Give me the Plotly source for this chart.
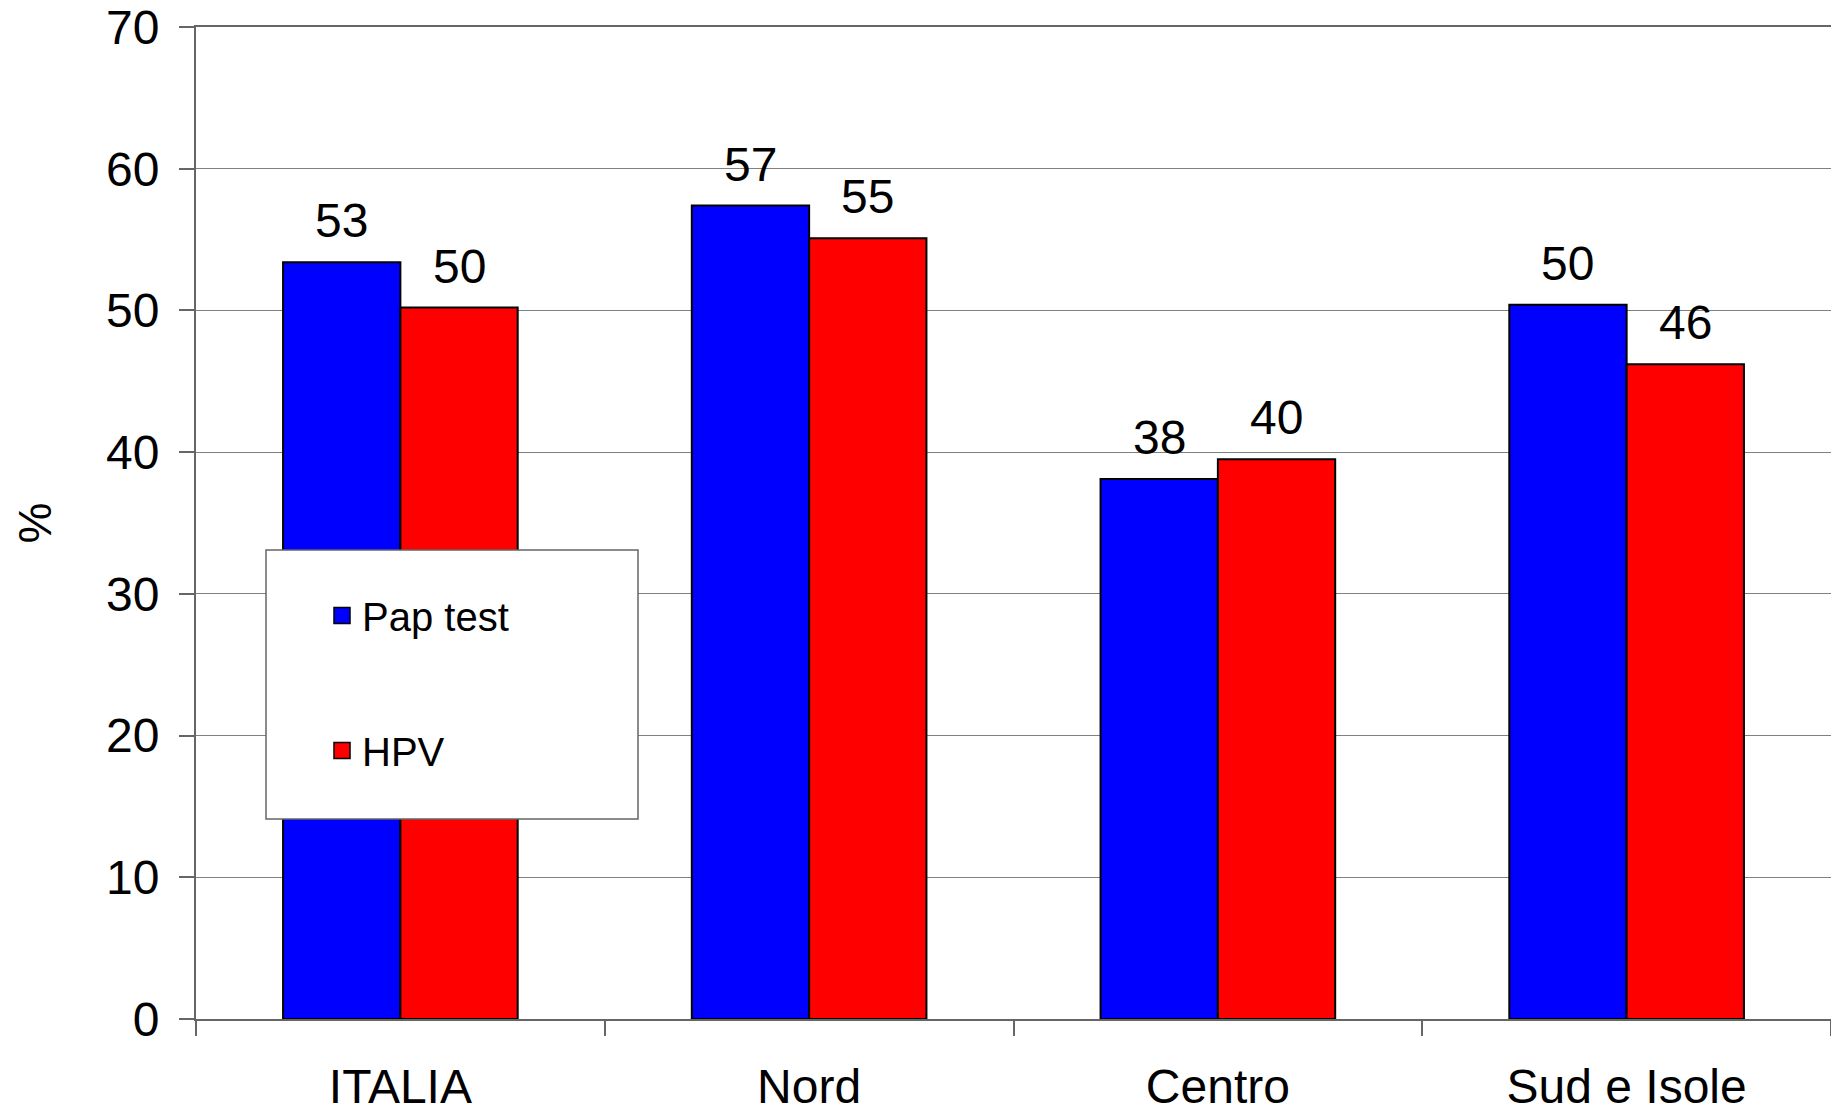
import plotly.graph_objects as go

categories = ["ITALIA", "Nord", "Centro", "Sud e Isole"]
pap_test = [53.4, 57.4, 38.1, 50.4]
hpv = [50.2, 55.1, 39.5, 46.2]
pap_labels = ["53", "57", "38", "50"]
hpv_labels = ["50", "55", "40", "46"]
y_ticks = [0, 10, 20, 30, 40, 50, 60, 70]
series_names = ["Pap test", "HPV"]
series_colors = ["#0000FF", "#FF0000"]

FONT = "Liberation Sans, Arial, sans-serif"
BARGAP = 0.426
W, H = 1831, 1100  # page body has an 8px margin

fig = go.Figure()
for name, vals, col in zip(series_names, [pap_test, hpv], series_colors):
    fig.add_trace(go.Bar(name=name, x=categories, y=vals, showlegend=False,
                         marker=dict(color=col, line=dict(color="black", width=2))))
# legend entries (square swatches)
for i, (name, col) in enumerate(zip(series_names, series_colors)):
    fig.add_trace(go.Scatter(name=name, x=[None], y=[None], mode="markers",
                             marker=dict(symbol="square", size=16, color=col,
                                         line=dict(color="black", width=1.5)),
                             legendgroup=f"g{i}", showlegend=True))

half = (1 - BARGAP) / 4
annotations = []
for sign, vals, labels in [(-1, pap_test, pap_labels), (1, hpv, hpv_labels)]:
    for i, (v, t) in enumerate(zip(vals, labels)):
        annotations.append(dict(x=i + sign * half, y=v, xref="x", yref="y", text=t,
                                showarrow=False, yanchor="bottom", yshift=13,
                                font=dict(size=48, color="black", family=FONT)))

pl, pr, pt, pb = 188, 1823, 19, 1011  # plot area in figure px
fig.update_layout(
    width=W, height=H,
    margin=dict(l=pl, r=W - pr, t=pt, b=H - pb, autoexpand=False),
    paper_bgcolor="white", plot_bgcolor="white",
    barmode="group", bargap=BARGAP, bargroupgap=0,
    font=dict(family=FONT, color="black"),
    annotations=annotations,
    legend=dict(x=(314 - pl) / (pr - pl), y=(pb - 575) / (pb - pt), xanchor="left", yanchor="top",
                bgcolor="rgba(0,0,0,0)", borderwidth=0,
                font=dict(size=40, family=FONT, color="black"),
                traceorder="grouped", tracegroupgap=80),
    shapes=[dict(type="rect", xref="paper", yref="paper", layer="above",
                 x0=(258 - pl) / (pr - pl), x1=(630 - pl) / (pr - pl),
                 y0=(pb - 811) / (pb - pt), y1=(pb - 542) / (pb - pt),
                 line=dict(color="#666666", width=1.5), fillcolor="white")],
    xaxis=dict(type="category", tickson="boundaries", ticks="outside", ticklen=15,
               tickcolor="#666666", tickwidth=1.5,
               showline=True, linecolor="#666666", linewidth=2, mirror=True,
               tickfont=dict(size=48, family=FONT, color="black"),
               ticklabelstandoff=24, ticklabeloverflow="allow", showgrid=False),
    yaxis=dict(range=[0, 70], tickvals=y_ticks, ticks="outside", ticklen=15,
               tickcolor="#666666", tickwidth=1.5,
               showline=True, linecolor="#666666", linewidth=2, mirror=True,
               showgrid=True, gridcolor="#808080", gridwidth=1.2,
               tickfont=dict(size=48, family=FONT, color="black"),
               ticklabelstandoff=10, ticklabeloverflow="allow",
               title=dict(text="%", font=dict(size=46, family=FONT, color="black"), standoff=40)),
)

fig.write_html("out.html")
